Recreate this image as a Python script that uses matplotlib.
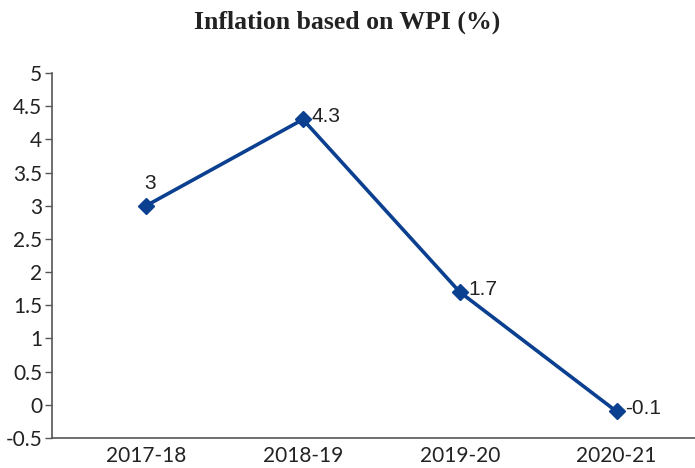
import matplotlib
matplotlib.use("Agg")
import matplotlib.pyplot as plt

years = ["2017-18", "2018-19", "2019-20", "2020-21"]
inflation = [3.0, 4.3, 1.7, -0.1]
labels = ["3", "4.3", "1.7", "-0.1"]
yticks = [-0.5, 0, 0.5, 1, 1.5, 2, 2.5, 3, 3.5, 4, 4.5, 5]
ytick_labels = ["-0.5", "0", "0.5", "1", "1.5", "2", "2.5", "3", "3.5", "4", "4.5", "5"]

fig = plt.figure(figsize=(6.95, 4.68), dpi=100)
ax = fig.add_axes([52/695, 1-438/468, 1-52/695, (438-73)/468])

color = "#0b3f90"
x = list(range(len(years)))
ax.plot(x, inflation, color=color, lw=2.6, marker="D", markersize=8.5, zorder=3)

for i, (v, t) in enumerate(zip(inflation, labels)):
    if i == 0:
        ax.annotate(t, (i, v), xytext=(3, 9), textcoords="offset points",
                    ha="center", va="bottom", fontsize=15, family="Liberation Sans", color="#222")
    else:
        ax.annotate(t, (i, v), xytext=(6, 2), textcoords="offset points",
                    ha="left", va="center", fontsize=15, family="Liberation Sans", color="#222")

ax.set_xlim(-0.6, 3.5)
ax.set_ylim(-0.5, 5)
ax.set_yticks(yticks)
ax.set_yticklabels(ytick_labels, family="Lato", fontsize=15, color="#222")
ax.set_xticks(x)
ax.set_xticklabels(years, family="Lato", fontsize=15, color="#222")
ax.tick_params(axis="x", length=0, pad=6)
ax.tick_params(axis="y", length=5, width=1, color="#555", pad=2)
for s in ["top", "right"]:
    ax.spines[s].set_visible(False)
for s in ["left", "bottom"]:
    ax.spines[s].set_color("#555")
    ax.spines[s].set_linewidth(1.2)

fig.text(0.5, 1-22/468, "Inflation based on WPI (%)", ha="center", va="center",
         family="Liberation Serif", fontweight="bold", fontsize=18.5, color="#222")

fig.savefig("out.png", dpi=100)
